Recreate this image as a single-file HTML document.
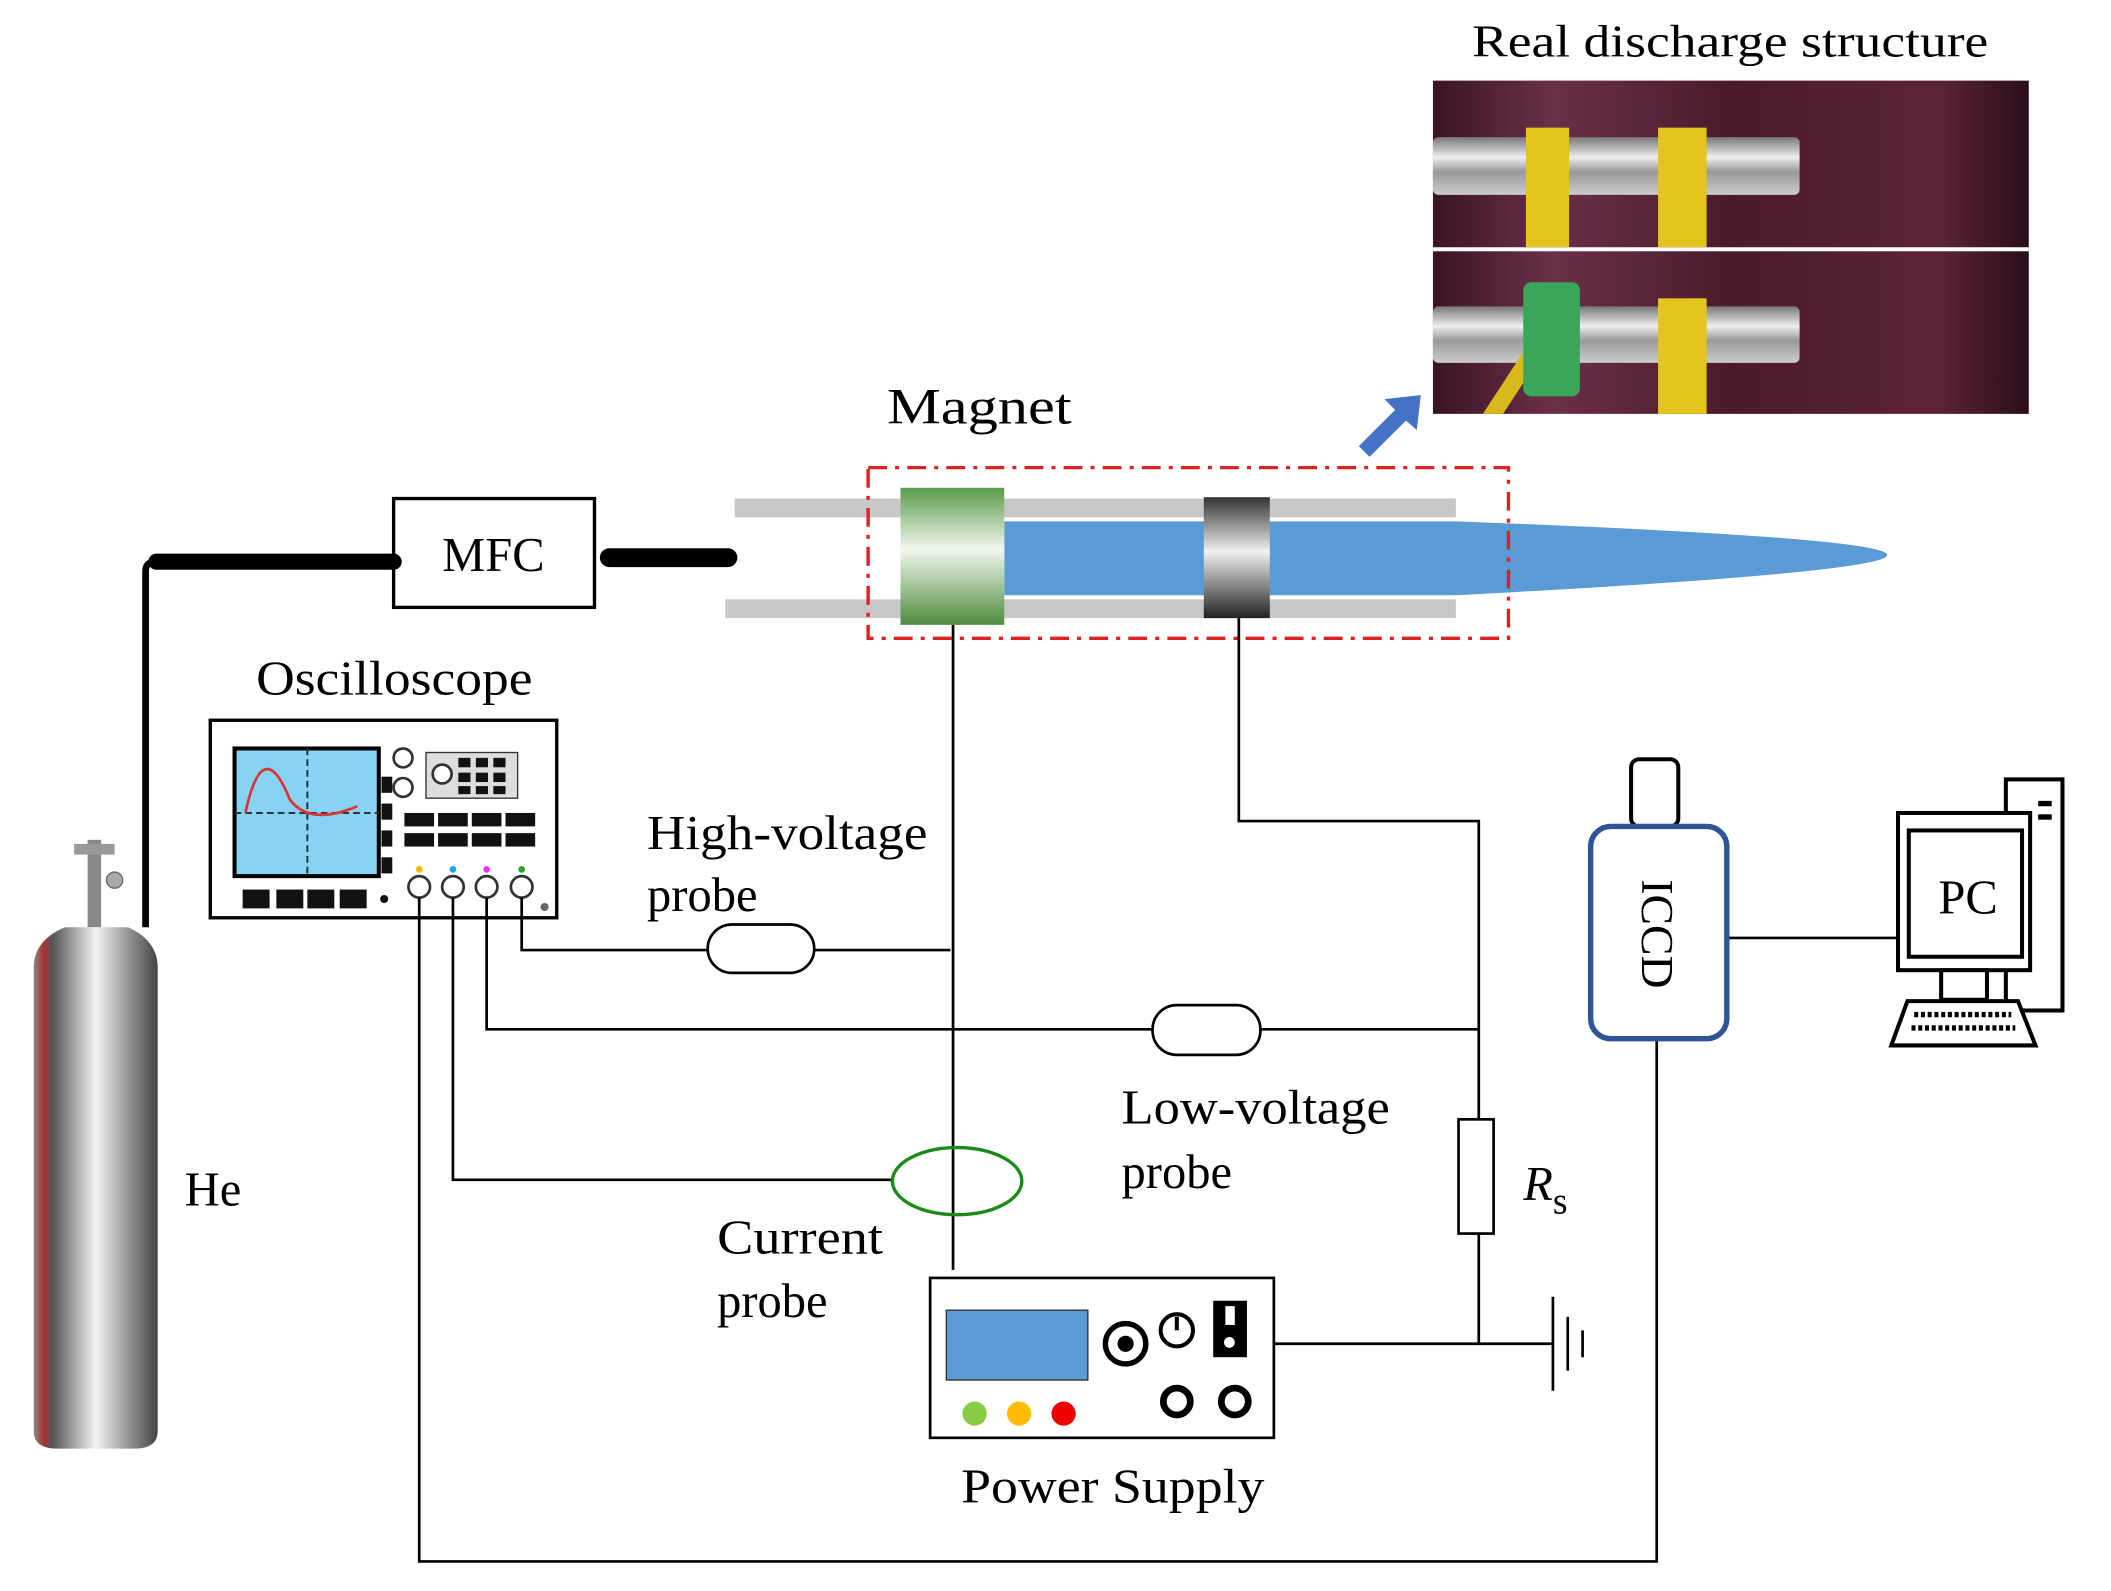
<!DOCTYPE html>
<html><head><meta charset="utf-8"><style>html,body{margin:0;padding:0;background:#fff}svg{display:block}text{font-family:"Liberation Serif",serif;fill:#000}</style></head><body>
<svg width="2111" height="1591" viewBox="0 0 1566 1184" preserveAspectRatio="none" xmlns="http://www.w3.org/2000/svg">
<defs>
<linearGradient id="gt" x1="0" y1="0" x2="0" y2="1"><stop offset="0" stop-color="#777"/><stop offset=".35" stop-color="#eee"/><stop offset=".6" stop-color="#999"/><stop offset="1" stop-color="#ccc"/></linearGradient>
<linearGradient id="gg" x1="0" y1="0" x2="0" y2="1"><stop offset="0" stop-color="#5a9a4a"/><stop offset=".45" stop-color="#f2f7ee"/><stop offset="1" stop-color="#4d8c3e"/></linearGradient>
<linearGradient id="gk" x1="0" y1="0" x2="0" y2="1"><stop offset="0" stop-color="#333"/><stop offset=".45" stop-color="#f0f0f0"/><stop offset="1" stop-color="#222"/></linearGradient>
<linearGradient id="cy" x1="0" y1="0" x2="1" y2="0"><stop offset="0" stop-color="#888"/><stop offset=".08" stop-color="#a33"/><stop offset=".15" stop-color="#555"/><stop offset=".5" stop-color="#f4f4f4"/><stop offset=".8" stop-color="#888"/><stop offset="1" stop-color="#444"/></linearGradient>
<linearGradient id="bg" x1="0" y1="0" x2="1" y2="0"><stop offset="0" stop-color="#3a1424"/><stop offset=".2" stop-color="#6a3048"/><stop offset=".5" stop-color="#4a1a2c"/><stop offset=".85" stop-color="#5c2338"/><stop offset="1" stop-color="#2a0e1a"/></linearGradient>
</defs>
<text x="1092" y="42" font-size="34" textLength="383" lengthAdjust="spacingAndGlyphs">Real discharge structure</text>
<rect x="1063" y="60" width="442" height="248" fill="url(#bg)"/>
<rect x="1063" y="184" width="442" height="3" fill="#fff"/>
<rect x="1063" y="102" width="272" height="43" rx="4" fill="url(#gt)"/>
<rect x="1132" y="95" width="32" height="89" fill="#e5c51c"/>
<rect x="1230" y="95" width="36" height="89" fill="#e5c51c"/>
<rect x="1063" y="228" width="272" height="42" rx="4" fill="url(#gt)"/>
<path d="M1100,308 L1130,262 L1145,262 L1115,308Z" fill="#d8b81a"/>
<rect x="1130" y="210" width="42" height="85" rx="6" fill="#3aa65a"/>
<rect x="1230" y="222" width="36" height="86" fill="#e5c51c"/>
<path d="M1008,332 L1035,305 L1027,297 L1054,294 L1051,320 L1043,313 L1016,340Z" fill="#4472c4"/>
<text x="658" y="315" font-size="38" textLength="137" lengthAdjust="spacingAndGlyphs">Magnet</text>
<rect x="545" y="371" width="535" height="14" fill="#c8c8c8"/>
<rect x="538" y="446" width="542" height="14" fill="#c8c8c8"/>
<path d="M745,388 L1080,388 Q1400,400 1400,413 Q1400,426 1080,443 L745,443Z" fill="#5b9bd5"/>
<rect x="668" y="363" width="77" height="102" fill="url(#gg)"/>
<rect x="893" y="370" width="49" height="90" fill="url(#gk)"/>
<rect x="644" y="348" width="475" height="127" fill="none" stroke="#e02020" stroke-width="2.5" stroke-dasharray="14,6,3,6"/>
<rect x="292" y="371" width="149" height="81" fill="#fff" stroke="#000" stroke-width="2.5"/>
<text x="366" y="425" font-size="36" text-anchor="middle">MFC</text>
<path d="M116,418 L292,418" stroke="#000" stroke-width="12" stroke-linecap="round"/>
<path d="M108,690 L108,425 Q108,418 116,418" stroke="#000" stroke-width="5" fill="none"/>
<path d="M452,415 L540,415" stroke="#000" stroke-width="14" stroke-linecap="round"/>
<text x="190" y="517" font-size="36" textLength="205" lengthAdjust="spacingAndGlyphs">Oscilloscope</text>
<rect x="156" y="536" width="257" height="147" fill="#fff" stroke="#000" stroke-width="2.5"/>
<rect x="174" y="557" width="107" height="95" fill="#87d3f5" stroke="#000" stroke-width="3"/>
<path d="M228,557V652M174,605H281" stroke="#333" stroke-dasharray="5,3" stroke-width="1.5"/>
<path d="M182,605 Q195,545 215,595 Q230,615 265,600" stroke="#d33" stroke-width="2" fill="none"/>
<g fill="#111"><rect x="283" y="578" width="8" height="12"/><rect x="283" y="598" width="8" height="12"/><rect x="283" y="618" width="8" height="12"/><rect x="283" y="638" width="8" height="12"/>
<rect x="300" y="605" width="22" height="10"/><rect x="325" y="605" width="22" height="10"/><rect x="350" y="605" width="22" height="10"/><rect x="375" y="605" width="22" height="10"/>
<rect x="300" y="620" width="22" height="10"/><rect x="325" y="620" width="22" height="10"/><rect x="350" y="620" width="22" height="10"/><rect x="375" y="620" width="22" height="10"/>
<rect x="180" y="662" width="20" height="14"/><rect x="205" y="662" width="20" height="14"/><rect x="228" y="662" width="20" height="14"/><rect x="252" y="662" width="20" height="14"/><circle cx="285" cy="669" r="3"/></g>
<rect x="316" y="560" width="68" height="34" fill="#ddd" stroke="#333"/>
<g fill="#111"><rect x="340" y="564" width="9" height="7"/><rect x="353" y="564" width="9" height="7"/><rect x="366" y="564" width="9" height="7"/><rect x="340" y="575" width="9" height="7"/><rect x="353" y="575" width="9" height="7"/><rect x="366" y="575" width="9" height="7"/><rect x="340" y="585" width="9" height="6"/><rect x="353" y="585" width="9" height="6"/><rect x="366" y="585" width="9" height="6"/></g>
<circle cx="328" cy="576" r="7" fill="#fff" stroke="#333" stroke-width="2"/>
<circle cx="299" cy="564" r="7" fill="#fff" stroke="#333" stroke-width="2"/><circle cx="299" cy="586" r="7" fill="#fff" stroke="#333" stroke-width="2"/>
<g fill="#fff" stroke="#333" stroke-width="2"><circle cx="311" cy="660" r="8"/><circle cx="336" cy="660" r="8"/><circle cx="361" cy="660" r="8"/><circle cx="387" cy="660" r="8"/></g>
<circle cx="311" cy="647" r="2.5" fill="#eb0"/><circle cx="336" cy="647" r="2.5" fill="#1ae"/><circle cx="361" cy="647" r="2.5" fill="#e3e"/><circle cx="387" cy="647" r="2.5" fill="#2a2"/><circle cx="404" cy="675" r="3" fill="#666"/>
<path d="M70,625 L70,690" stroke="#888" stroke-width="10"/>
<rect x="55" y="628" width="30" height="8" fill="#999"/>
<circle cx="85" cy="655" r="6" fill="#aaa" stroke="#666"/>
<path d="M48,690 L95,690 Q117,700 117,720 L117,1065 Q117,1078 100,1078 L42,1078 Q25,1078 25,1065 L25,720 Q25,700 48,690Z" fill="url(#cy)"/>
<text x="137" y="897" font-size="36">He</text>
<g stroke="#000" stroke-width="2" fill="none">
<path d="M387,668 V707 H525 M604,707 H705"/>
<rect x="525" y="688" width="79" height="36" rx="18" fill="#fff"/>
<path d="M361,668 V766 H855 M935,766 H1097"/>
<rect x="855" y="748" width="80" height="37" rx="18" fill="#fff"/>
<path d="M336,668 V878 H663"/>
<path d="M311,668 V1162 H1229 V775"/>
<path d="M707,465 V945"/>
<path d="M919,460 V611 H1097 V833 M1097,918 V1000 M945,1000 H1152"/>
<rect x="1082" y="833" width="26" height="85" fill="#fff"/>
<path d="M1152,965 V1035 M1163,980 V1020 M1174,990 V1010"/>
<path d="M1281,698 H1410"/>
</g>
<ellipse cx="710" cy="879" rx="48" ry="25" fill="none" stroke="#1a8a1a" stroke-width="2.5"/>
<text x="480" y="632" font-size="36" textLength="208" lengthAdjust="spacingAndGlyphs">High-voltage</text><text x="480" y="678" font-size="36">probe</text>
<text x="832" y="836" font-size="36" textLength="199" lengthAdjust="spacingAndGlyphs">Low-voltage</text><text x="832" y="884" font-size="36">probe</text>
<text x="532" y="933" font-size="36" textLength="123" lengthAdjust="spacingAndGlyphs">Current</text><text x="532" y="980" font-size="36">probe</text>
<text x="1130" y="893" font-size="36" font-style="italic">R<tspan font-style="normal" font-size="28" dy="10">s</tspan></text>
<rect x="690" y="951" width="255" height="119" fill="#fff" stroke="#000" stroke-width="2"/>
<rect x="702" y="975" width="105" height="52" fill="#5b9bd5" stroke="#333"/>
<circle cx="835" cy="1000" r="15" fill="#fff" stroke="#000" stroke-width="4"/><circle cx="835" cy="1000" r="6" fill="#000"/>
<circle cx="873" cy="990" r="12" fill="#fff" stroke="#000" stroke-width="3"/><path d="M873,980V990" stroke="#000" stroke-width="3"/>
<rect x="900" y="968" width="25" height="42" fill="#000"/><rect x="909" y="972" width="7" height="14" fill="#fff"/><circle cx="912" cy="999" r="4" fill="#fff"/>
<circle cx="873" cy="1043" r="10" fill="none" stroke="#000" stroke-width="5"/><circle cx="916" cy="1043" r="10" fill="none" stroke="#000" stroke-width="5"/>
<circle cx="723" cy="1052" r="9" fill="#8c4"/><circle cx="756" cy="1052" r="9" fill="#fb0"/><circle cx="789" cy="1052" r="9" fill="#e00"/>
<text x="713" y="1118" font-size="36" textLength="225" lengthAdjust="spacingAndGlyphs">Power Supply</text>
<rect x="1210" y="565" width="35" height="50" rx="6" fill="#fff" stroke="#000" stroke-width="3"/>
<rect x="1180" y="615" width="101" height="158" rx="15" fill="#fff" stroke="#2f5597" stroke-width="4"/>
<text x="0" y="0" font-size="34" text-anchor="middle" transform="translate(1218,695) rotate(90)">ICCD</text>
<rect x="1488" y="580" width="42" height="172" fill="#fff" stroke="#000" stroke-width="3"/>
<rect x="1512" y="596" width="10" height="4" fill="#000"/><rect x="1512" y="606" width="10" height="4" fill="#000"/>
<rect x="1408" y="605" width="98" height="117" fill="#fff" stroke="#000" stroke-width="3"/>
<rect x="1416" y="618" width="84" height="94" fill="#fff" stroke="#000" stroke-width="3"/>
<text x="1460" y="680" font-size="36" text-anchor="middle">PC</text>
<rect x="1440" y="722" width="34" height="22" fill="#fff" stroke="#000" stroke-width="3"/>
<path d="M1415,745 H1497 L1510,778 H1403Z" fill="#fff" stroke="#000" stroke-width="3"/>
<path d="M1420,755 H1492 M1418,765 H1495" stroke="#000" stroke-width="4" stroke-dasharray="3,2"/>
</svg>
</body></html>
